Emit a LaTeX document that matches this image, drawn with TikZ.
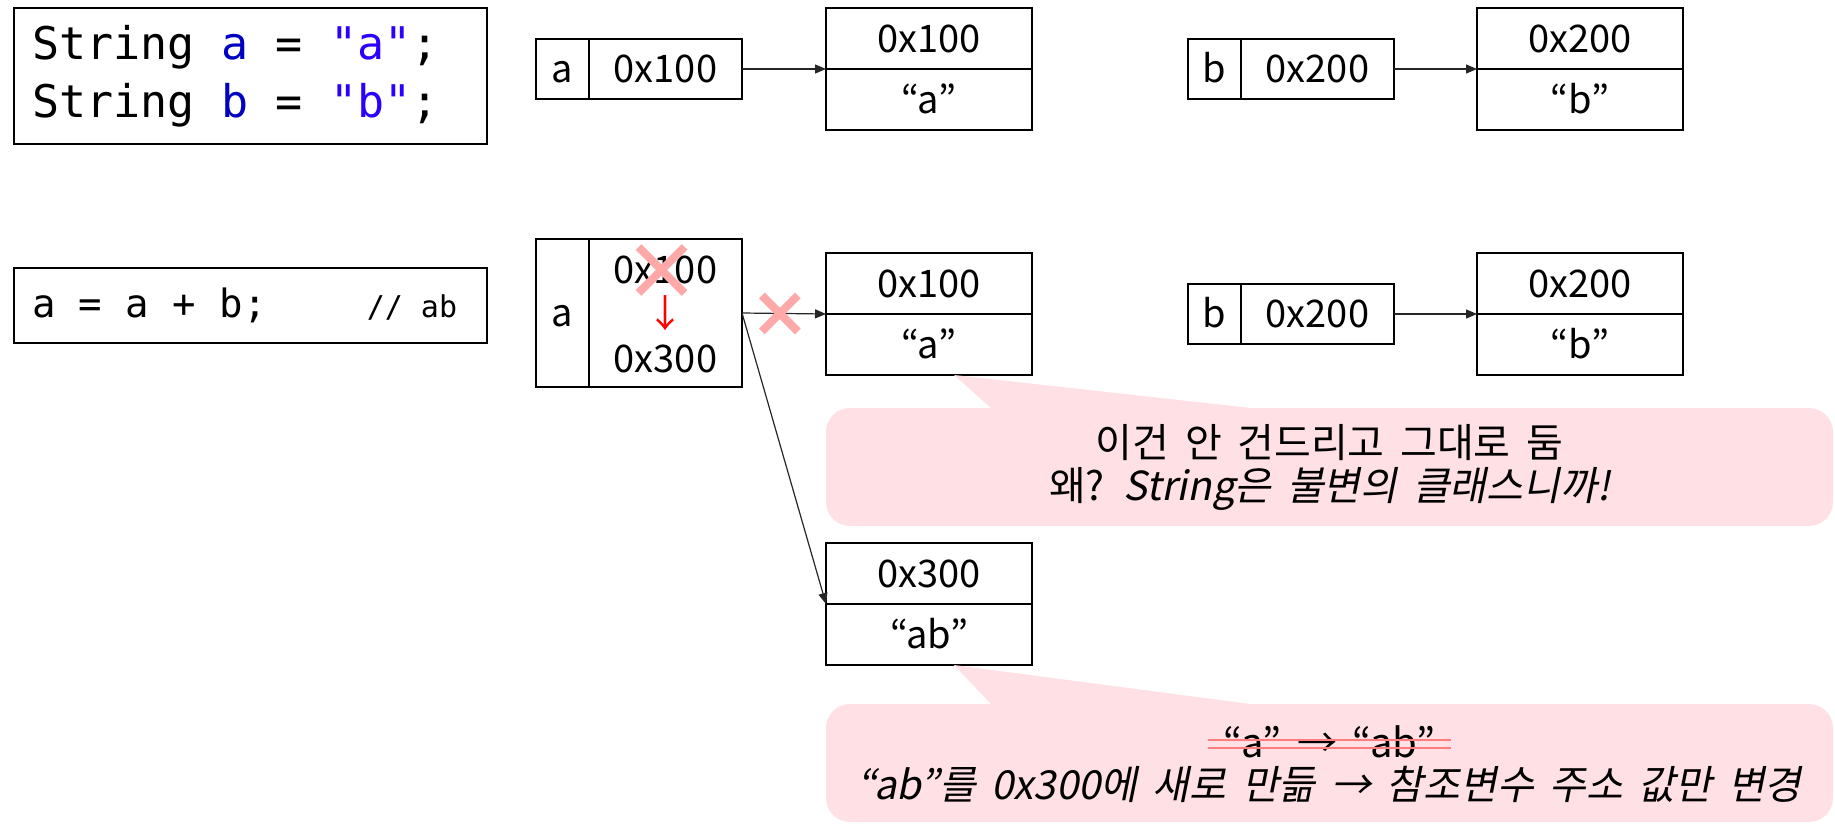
\documentclass[tikz,border=0pt]{standalone}
\usepackage{fontspec}
\setmainfont[AutoFakeSlant=0.2]{Noto Sans CJK KR}
\newfontfamily\codefont{DejaVu Sans Mono}
\usepackage{tikz}
\usetikzlibrary{arrows.meta}
\definecolor{varBlue}{RGB}{0,0,192}
\definecolor{strBlue}{RGB}{42,0,255}
\definecolor{noteFill}{RGB}{255,224,229}
\definecolor{crossRed}{RGB}{255,168,168}
\definecolor{strikeRed}{RGB}{255,125,125}
\tikzset{
  codebox/.style={
    draw, line width=1.8pt, align=flush left, inner xsep=18pt, inner ysep=0pt,
    font=\codefont\fontsize{45}{58}\selectfont
  },
  namecell/.style={
    draw, line width=1.5pt, inner sep=0pt, outer sep=0pt,
    minimum width=53pt, minimum height=#1,
    text height=27pt, text depth=0pt,
    font=\fontsize{38}{44}\selectfont
  },
  namecell/.default=60pt,
  valcell/.style={
    namecell=#1, minimum width=153pt
  },
  valcell/.default=60pt,
  objcell/.style={
    namecell=61pt, minimum width=206pt
  },
  celltext/.style={
    inner sep=0pt, text height=27pt, text depth=0pt,
    font=\fontsize{38}{44}\selectfont
  },
  arrow/.style={
    -{Triangle[length=11pt,width=9pt]}, line width=1.2pt, draw=black!85
  },
  crossline/.style={
    draw=crossRed, line width=8pt
  },
  note/.style={
    fill=noteFill, rounded corners=24pt, inner sep=0pt,
    minimum width=1007pt, minimum height=118pt
  },
  notetext/.style={
    align=center, inner sep=0pt,
    font=\fontsize{40}{43}\selectfont,
    execute at begin node={\spaceskip=0.39em\relax}
  },
  strike/.style={
    draw=strikeRed, line width=2.8pt
  }
}
\begin{document}
\begin{tikzpicture}[x=1pt,y=-1pt]
\useasboundingbox (0,0) rectangle (1835,835);

% source code
\node[codebox, text width=437pt, minimum height=136pt] (decl) at (250.5,76)
{String {\color{varBlue}a} = {\color{strBlue}"a"};\\
String {\color{varBlue}b} = {\color{strBlue}"b"};};
\node[codebox, text width=437pt, minimum height=75pt,
  font=\codefont\fontsize{39}{46}\selectfont] (concat) at (250.5,305.5)
{a = a + b;\hspace{100pt}{\fontsize{30}{36}\selectfont// ab}};

% before
\node[namecell] (a1name) at (562.5,69) {a};
\node[valcell, anchor=west] (a1val) at (a1name.east) {0x100};
\node[objcell] (a1addr) at (929,38.5) {0x100};
\node[objcell, anchor=north] (a1str) at (a1addr.south) {“a”};
\node[namecell] (b1name) at (1214.5,69) {b};
\node[valcell, anchor=west] (b1val) at (b1name.east) {0x200};
\node[objcell] (b1addr) at (1580,38.5) {0x200};
\node[objcell, anchor=north] (b1str) at (b1addr.south) {“b”};
\draw[arrow] (a1val.east) -- (a1addr.south west);
\draw[arrow] (b1val.east) -- (b1addr.south west);

% after
\node[namecell=148pt] (a2name) at (562.5,313) {a};
\node[valcell=148pt, anchor=west] (a2val) at (a2name.east) {};
\node[celltext] (a2old) at (665.5,270) {0x100};
\node[celltext, text=red] (a2step) at (665.5,314) {↓};
\node[celltext] (a2new) at (665.5,359) {0x300};
\node[objcell] (a2addr) at (929,283.5) {0x100};
\node[objcell, anchor=north] (a2str) at (a2addr.south) {“a”};
\node[namecell] (b2name) at (1214.5,314) {b};
\node[valcell, anchor=west] (b2val) at (b2name.east) {0x200};
\node[objcell] (b2addr) at (1580,283.5) {0x200};
\node[objcell, anchor=north] (b2str) at (b2addr.south) {“b”};
\node[objcell] (c2addr) at (929,573.5) {0x300};
\node[objcell, anchor=north] (c2str) at (c2addr.south) {“ab”};
\draw[arrow] (a2val.east) -- (a2addr.south west);
\draw[arrow] (b2val.east) -- (b2addr.south west);
\draw[arrow] (a2val.east) -- (c2addr.south west);

% crossed out
\draw[crossline] ([shift={(-27,-23)}]a2old.center) -- ([shift={(19,23)}]a2old.center);
\draw[crossline] ([shift={(19,-23)}]a2old.center) -- ([shift={(-27,23)}]a2old.center);
\path (a2val.east) -- (a2addr.south west) coordinate[pos=0.45] (cut);
\draw[crossline] ([shift={(-18,-18)}]cut) -- ([shift={(18,18)}]cut);
\draw[crossline] ([shift={(18,-18)}]cut) -- ([shift={(-18,18)}]cut);

% notes
\node[note] (why) at (1329.5,467) {};
\fill[noteFill] ([xshift=25pt]a2str.south) -- ([xshift=165pt]why.north west)
  -- ([xshift=423pt]why.north west) -- cycle;
\node[notetext] (whytext) at (why.center)
{이건 안 건드리고 그대로 둠\\왜? \textit{String은 불변의 클래스니까!}};

\node[note] (how) at (1329.5,763) {};
\fill[noteFill] ([xshift=25pt]c2str.south) -- ([xshift=165pt]how.north west)
  -- ([xshift=423pt]how.north west) -- cycle;
\node[notetext] (howold) at (1329.5,742) {“a” → “ab”};
\node[notetext] (hownew) at (1329.5,784)
{\textit{“ab”를 0x300에 새로 만듦 → 참조변수 주소 값만 변경}};
\draw[strike] ([xshift=-16pt,yshift=2pt]howold.west) -- ([xshift=16pt,yshift=2pt]howold.east);
\draw[strike] ([xshift=-16pt,yshift=-6pt]howold.west) -- ([xshift=16pt,yshift=-6pt]howold.east);

\end{tikzpicture}
\end{document}
